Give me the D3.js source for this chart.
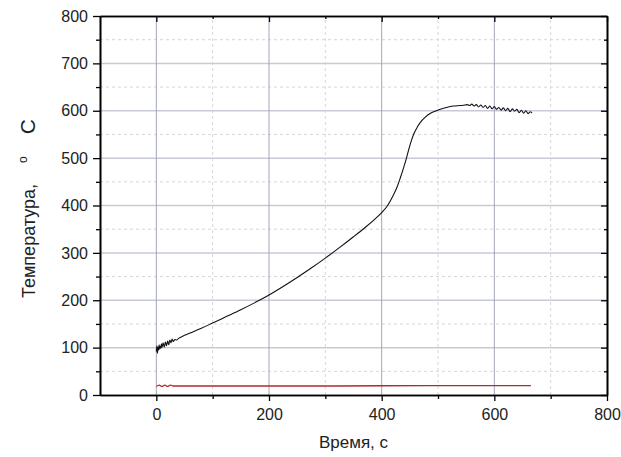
<!DOCTYPE html>
<html>
<head>
<meta charset="utf-8">
<script src="https://cdn.jsdelivr.net/npm/d3@7"></script>
<style>
  body { margin: 0; background: #fff; }
  svg { font-family: "Liberation Sans", Arial, sans-serif; }
</style>
</head>
<body>
<div id="chart"></div>
<script>
// black curve: time (s) and temperature (C)
const timeBlack = [0, 1, 2, 3, 4, 5, 6, 7, 8, 9, 10, 12, 14, 16, 18, 20, 22, 24, 26, 28, 30, 33, 36, 40, 45, 50, 60, 80, 100,
    125, 150, 175, 200, 225, 250, 275, 300, 325, 350, 370, 385, 400, 410, 420, 427, 433, 439, 444, 448, 453, 457, 463,
    469, 477, 486, 495, 504, 515, 527, 540, 548, 552, 556, 560, 564, 568, 572, 576, 580, 584, 588, 592, 596, 600,
    604, 608, 612, 616, 620, 624, 628, 632, 636, 640, 644, 648, 652, 656, 660, 664, 667];
const tempBlack = [92, 104, 88, 101, 95, 106, 97, 103, 99, 108, 100, 110, 101, 112, 104, 114, 106, 116, 110, 118, 113, 117, 116, 120, 123, 126, 131, 141, 152,
    166, 180, 195, 211, 229, 248, 268, 289, 311, 334, 353, 368, 385, 399, 420, 438, 458, 480, 500, 518, 538, 551, 565,
    576, 586, 594, 599, 603, 607, 610, 611, 612, 613, 611, 614, 610, 613, 608, 612, 607, 611, 605, 610, 604, 609,
    603, 607, 601, 606, 600, 605, 598, 604, 599, 603, 596, 601, 595, 600, 594, 598, 595];

// red curve
const timeRed = [0, 5, 10, 15, 20, 25, 30, 100, 300, 500, 665];
const tempRed = [18, 21, 18, 21, 18, 21, 19, 19, 19, 20, 20];

const xTicks = [0, 200, 400, 600, 800];
const yTicks = [0, 100, 200, 300, 400, 500, 600, 700, 800];
const xLabel = "Время, с";

const width = 621, height = 457;
const margin = { top: 16, right: 14, bottom: 62, left: 100 };
const x0 = margin.left, x1 = width - margin.right;
const y0 = height - margin.bottom, y1 = margin.top;

const svg = d3.select("#chart").append("svg")
    .attr("width", width)
    .attr("height", height);

const x = d3.scaleLinear().domain([-100, 800]).range([x0, x1]);
const y = d3.scaleLinear().domain([0, 800]).range([y0, y1]);

const xMinor = d3.range(100, 800, 200);  // 100,300,500,700
const yMinor = d3.range(50, 800, 100);

// minor grid (dashed)
svg.append("g").selectAll("line").data(xMinor).enter().append("line")
    .attr("x1", d => x(d)).attr("x2", d => x(d))
    .attr("y1", y0).attr("y2", y1)
    .attr("stroke", "#d6d6d6").attr("stroke-dasharray", "3,3").attr("stroke-width", 1);
svg.append("g").selectAll("line").data(yMinor).enter().append("line")
    .attr("x1", x0).attr("x2", x1)
    .attr("y1", d => y(d)).attr("y2", d => y(d))
    .attr("stroke", "#d6d6d6").attr("stroke-dasharray", "3,3").attr("stroke-width", 1);

// major grid
svg.append("g").selectAll("line").data(yTicks.filter(d => d > 0 && d < 800)).enter().append("line")
    .attr("x1", x0).attr("x2", x1)
    .attr("y1", d => y(d)).attr("y2", d => y(d))
    .attr("stroke", "#c9cad8").attr("stroke-width", 1.5);
svg.append("g").selectAll("line").data(xTicks.filter(d => d < 800)).enter().append("line")
    .attr("x1", d => x(d)).attr("x2", d => x(d))
    .attr("y1", y0).attr("y2", y1)
    .attr("stroke", "#a3a6bb").attr("stroke-width", 1);

// data lines
const line = d3.line().x(d => x(d[0])).y(d => y(d[1])).curve(d3.curveMonotoneX);

svg.append("path")
    .datum(timeRed.map((t, i) => [t, tempRed[i]]))
    .attr("fill", "none")
    .attr("stroke", "#b22a2a")
    .attr("stroke-width", 1.3)
    .attr("d", line);

svg.append("path")
    .datum(timeBlack.map((t, i) => [t, tempBlack[i]]))
    .attr("fill", "none")
    .attr("stroke", "#111")
    .attr("stroke-width", 1.1)
    .attr("stroke-linejoin", "round")
    .attr("d", line);

// axes
svg.append("g")
    .attr("transform", `translate(0,${y0})`)
    .call(d3.axisBottom(x).tickValues(xTicks).tickSize(6).tickSizeOuter(0).tickPadding(8));
svg.append("g")
    .attr("transform", `translate(${x0},0)`)
    .call(d3.axisLeft(y).tickValues(yTicks).tickSize(7).tickSizeOuter(0).tickPadding(5));
svg.append("g")
    .attr("transform", `translate(0,${y1})`)
    .call(d3.axisTop(x).tickValues(xTicks).tickSize(-6).tickSizeOuter(0).tickFormat(""));
svg.append("g")
    .attr("transform", `translate(${x1},0)`)
    .call(d3.axisRight(y).tickValues(yTicks).tickSize(-6).tickSizeOuter(0).tickFormat(""));

// minor ticks
svg.append("g").attr("transform", `translate(0,${y0})`)
    .call(d3.axisBottom(x).tickValues(xMinor).tickSize(4).tickSizeOuter(0).tickFormat(""));
svg.append("g").attr("transform", `translate(${x0},0)`)
    .call(d3.axisLeft(y).tickValues(yMinor).tickSize(4).tickSizeOuter(0).tickFormat(""));
svg.append("g").attr("transform", `translate(0,${y1})`)
    .call(d3.axisTop(x).tickValues(xMinor).tickSize(-3).tickSizeOuter(0).tickFormat(""));
svg.append("g").attr("transform", `translate(${x1},0)`)
    .call(d3.axisRight(y).tickValues(yMinor).tickSize(-3).tickSizeOuter(0).tickFormat(""));

svg.selectAll(".domain").attr("stroke", "#000").attr("stroke-width", 1.6);
svg.selectAll(".tick line").attr("stroke", "#000").attr("stroke-width", 1.3);
svg.selectAll(".tick text").attr("font-size", 16).attr("fill", "#222")
    .attr("font-family", "'Liberation Sans', Arial, sans-serif");

// axis titles
svg.append("text")
    .attr("x", (x0 + x1) / 2)
    .attr("y", 448)
    .attr("text-anchor", "middle")
    .attr("font-size", 17)
    .attr("fill", "#222")
    .text(xLabel);

const yTitle = svg.append("text")
    .attr("transform", "translate(35,298) rotate(-90)")
    .attr("text-anchor", "start")
    .attr("font-size", 18)
    .attr("fill", "#222");
yTitle.append("tspan").text("Температура,");
yTitle.append("tspan").attr("font-size", 12).attr("dx", 21).attr("dy", -8).text("o");
yTitle.append("tspan").attr("font-size", 21).attr("dx", 22).attr("dy", 8).text("C");
</script>
</body>
</html>
